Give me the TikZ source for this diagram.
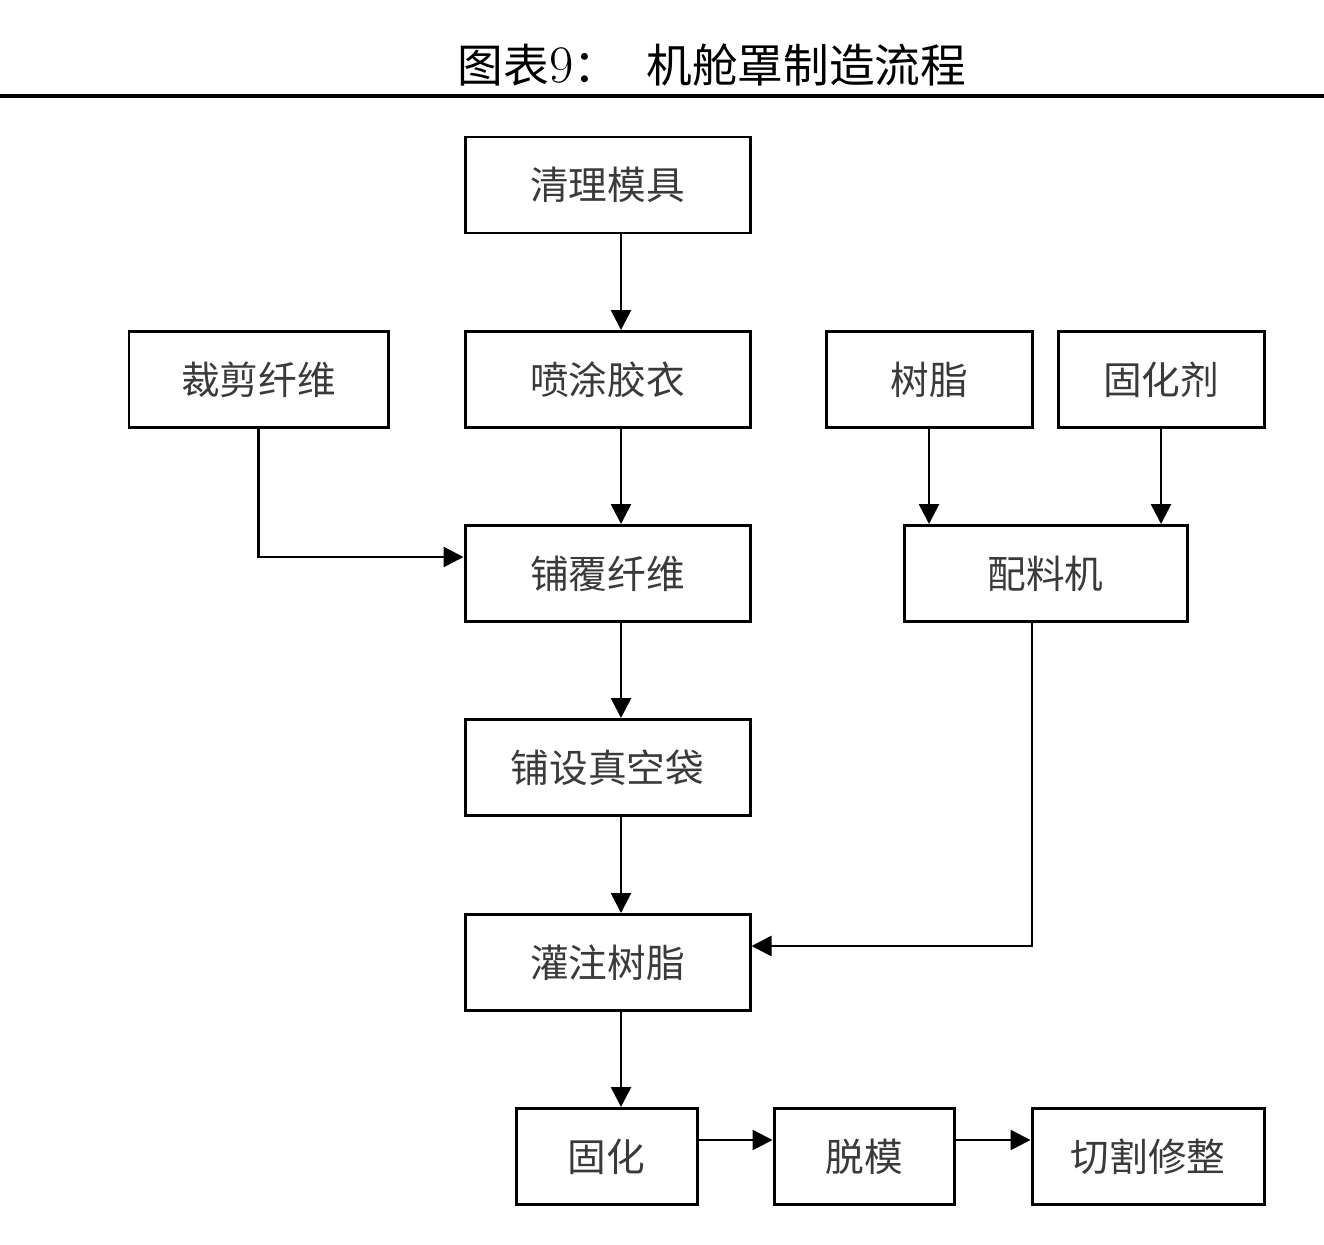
\documentclass[tikz,border=0pt]{standalone}
\usepackage{fontspec}
\newfontfamily\cjk{Noto Sans CJK SC}
\usetikzlibrary{arrows.meta, positioning}
\definecolor{cink}{HTML}{3A3A3A}
\tikzset{
  every picture/.style={line width=1.7pt},
  stepbox/.style={draw=black, fill=white, align=center, minimum height=1.92cm, text=cink, font=\cjk\fontsize{22}{26}\selectfont, inner sep=0pt},
  arrow/.style={-{Triangle[length=4mm, width=4mm]}, draw=black, line width=1.5pt},
  title/.style={font=\cjk\fontsize{26}{30}\selectfont, text=black},
}
\begin{document}
\begin{tikzpicture}
  \useasboundingbox (0,0) rectangle (26.48,-24.88);
  % title
  \node[title] (ttl) at (14.24,-1.30) {图表{\rmfamily\fontsize{30}{30}\selectfont 9}：\hspace{0.6em}机舱罩制造流程};
  \coordinate (rl) at (0,-1.92);
  \coordinate (rr) at (26.48,-1.92);
  \draw[line width=2.8pt] (rl) -- (rr);
  % main line
  \node[stepbox, minimum width=5.70cm] (qlmj) at (12.15,-3.70) {清理模具};
  \node[stepbox, minimum width=5.70cm] (ptjy) at (12.15,-7.59) {喷涂胶衣};
  \node[stepbox, minimum width=5.70cm] (pfxw) at (12.15,-11.47) {铺覆纤维};
  \node[stepbox, minimum width=5.70cm] (pszk) at (12.15,-15.35) {铺设真空袋};
  \node[stepbox, minimum width=5.70cm] (gzsz) at (12.15,-19.25) {灌注树脂};
  \coordinate (spine) at (12.42,0);
  \draw[arrow] (qlmj.south -| spine) -- (ptjy.north -| spine);
  \draw[arrow] (ptjy.south -| spine) -- (pfxw.north -| spine);
  \draw[arrow] (pfxw.south -| spine) -- (pszk.north -| spine);
  \draw[arrow] (pszk.south -| spine) -- (gzsz.north -| spine);
  % fibre
  \node[stepbox, minimum width=5.18cm] (cjxw) at (5.17,-7.59) {裁剪纤维};
  \draw[arrow] (cjxw.south) |- ([yshift=0.33cm]pfxw.west);
  % resin
  \node[stepbox, minimum width=4.12cm] (sz) at (18.58,-7.59) {树脂};
  \node[stepbox, minimum width=4.12cm] (ghj) at (23.22,-7.59) {固化剂};
  \node[stepbox, minimum width=5.66cm] (plj) at (20.91,-11.47) {配料机};
  \draw[arrow] (sz.south) -- (sz.south |- plj.north);
  \draw[arrow] (ghj.south) -- (ghj.south |- plj.north);
  \draw[arrow] ([xshift=-0.27cm]plj.south) |- ([yshift=0.33cm]gzsz.east);
  % last row
  \node[stepbox, minimum width=3.62cm] (gh) at (12.13,-23.13) {固化};
  \node[stepbox, minimum width=3.60cm] (tm) at (17.28,-23.13) {脱模};
  \node[stepbox, minimum width=4.64cm] (qgxz) at (22.96,-23.13) {切割修整};
  \draw[arrow] (gzsz.south -| spine) -- (gh.north -| spine);
  \draw[arrow] ([yshift=0.33cm]gh.east) -- ([yshift=0.33cm]tm.west);
  \draw[arrow] ([yshift=0.33cm]tm.east) -- ([yshift=0.33cm]qgxz.west);
\end{tikzpicture}
\end{document}
